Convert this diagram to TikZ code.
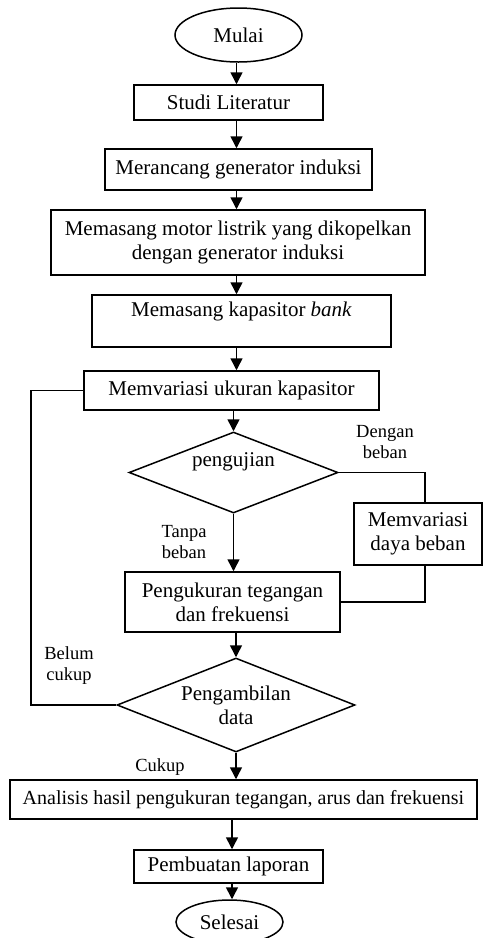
\documentclass[tikz,border=0pt]{standalone}
\usepackage{fontspec}
\setmainfont{Liberation Serif}
\usetikzlibrary{shapes.geometric, arrows.meta}

\begin{document}
\begin{tikzpicture}[x = 1pt, y = -1pt, line width = 1.5pt,
    box/.style = {draw, rectangle, align = center, inner sep = 0pt,
      font = \fontsize{21}{24}\selectfont},
    oval/.style = {draw, ellipse, inner sep = 0pt,
      font = \fontsize{21}{24}\selectfont},
    cek/.style = {draw, diamond, shape aspect = 2.5, align = center, inner sep = 0pt,
      font = \fontsize{21}{24}\selectfont},
    lbl/.style = {align = center, inner sep = 0pt,
      font = \fontsize{18.5}{21}\selectfont},
    panah/.style = {-{Triangle[length = 12pt, width = 12pt]}}]
              \clip (0, 0) rectangle (483, 938);
              \coordinate (axis) at (236.5, 0);
              \coordinate (axisb) at (232, 0);
              \coordinate (kiri) at (31, 0);
              \coordinate (kanan) at (425, 0);
              % main column
              \node [oval, minimum width = 127pt, minimum height = 54pt] (mulai) at (238.5, 35) {Mulai};
              \node [box, minimum width = 189pt, minimum height = 35pt] (studi) at (228.5, 102.5) {Studi Literatur};
              \node [box, minimum width = 267pt, minimum height = 41pt] (rancang) at (238.5, 169.5) {Merancang generator induksi};
              \node [box, minimum width = 374pt, minimum height = 65pt] (motor) at (238, 242.5) {Memasang motor listrik yang dikopelkan\\dengan generator induksi};
              \node [box, minimum width = 299pt, minimum height = 52pt] (bank) at (241.5, 321) {Memasang kapasitor \textit{bank}\\ \mbox{}};
              \node [box, minimum width = 295pt, minimum height = 39pt] (ukuran) at (231.5, 390.5) {Memvariasi ukuran kapasitor};
              \node [cek, minimum width = 209pt, minimum height = 81pt] (uji) at (233.5, 472.5) {pengujian\\[1pt]};
              \node [box, minimum width = 128pt, minimum height = 62pt] (daya) at (418, 534) {Memvariasi\\daya beban};
              \node [box, minimum width = 215pt, minimum height = 60pt] (ukur) at (232.5, 602) {Pengukuran tegangan\\dan frekuensi};
              \node [cek, minimum width = 238pt, minimum height = 94pt] (ambil) at (236, 705) {Pengambilan\\data};
              \node [box, minimum width = 467pt, minimum height = 39pt, font = \fontsize{20}{24}\selectfont] (analisis) at (243.5, 799.5) {Analisis hasil pengukuran tegangan, arus dan frekuensi};
              \node [box, minimum width = 189pt, minimum height = 33pt] (laporan) at (228.5, 866.5) {Pembuatan laporan};
              \node [oval, minimum width = 107pt, minimum height = 44pt] (selesai) at (229.5, 922) {Selesai};
              % labels
              \node [lbl] (dengan) at (385, 442) {Dengan\\beban};
              \node [lbl] (tanpa) at (184, 542) {Tanpa\\beban};
              \node [lbl] (belum) at (69, 666) {Belum\\cukup};
              \node [lbl] (cukup) at (160, 767) {Cukup};
              % arrows
              \draw [panah] (mulai.south -| axis) -- (studi.north -| axis);
              \draw [panah] (studi.south -| axis) -- (rancang.north -| axis);
              \draw [panah] (rancang.south -| axis) -- (motor.north -| axis);
              \draw [panah] (motor.south -| axis) -- (bank.north -| axis);
              \draw [panah] (bank.south -| axis) -- (ukuran.north -| axis);
              \draw [panah] (ukuran.south -| uji.north) -- (uji.north);
              \draw [panah] (uji.south) -- (ukur.north -| uji.south);
              \draw [panah] (ukur.south -| ambil.north) -- (ambil.north);
              \draw [panah] (ambil.south) -- (analisis.north -| ambil.south);
              \draw [panah] (analisis.south -| axisb) -- (laporan.north -| axisb);
              \draw [panah] (laporan.south -| axisb) -- (selesai.north -| axisb);
              % loops
              \draw (ukuran.west) -- (ukuran.west -| kiri) -- (ambil.west -| kiri) -- (ambil.west);
              \draw (uji.east) -- (uji.east -| kanan) -- (daya.north -| kanan);
              \draw (daya.south -| kanan) -- (ukur.east -| kanan) -- (ukur.east);
\end{tikzpicture}
\end{document}
